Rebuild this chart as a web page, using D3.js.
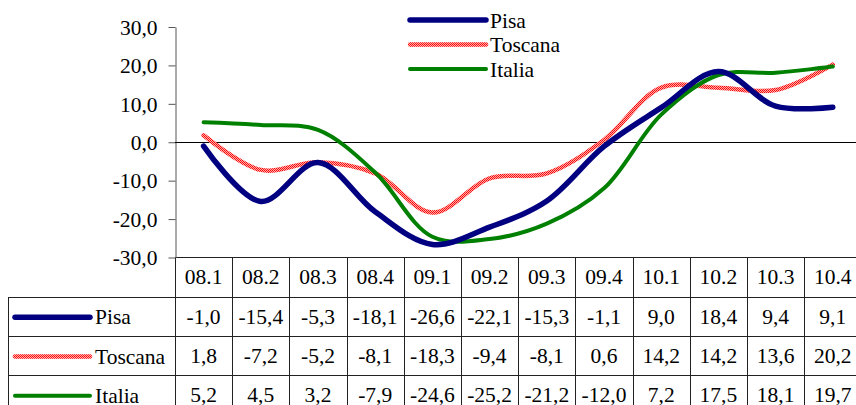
<!DOCTYPE html>
<html>
<head>
<meta charset="utf-8">
<script src="https://cdn.jsdelivr.net/npm/d3@7"></script>
<style>
  body { margin: 0; background: #fff; }
  svg { display: block; }
</style>
</head>
<body>
<svg></svg>
<script>
// dati trimestrali (variazioni %)
const categories = ["08.1", "08.2", "08.3", "08.4", "09.1", "09.2", "09.3", "09.4", "10.1", "10.2", "10.3", "10.4"];
const pisa    = [-1.0, -15.4, -5.3, -18.1, -26.6, -22.1, -15.3, -1.1, 9.0, 18.4, 9.4, 9.1];
const toscana = [1.8, -7.2, -5.2, -8.1, -18.3, -9.4, -8.1, 0.6, 14.2, 14.2, 13.6, 20.2];
const italia  = [5.2, 4.5, 3.2, -7.9, -24.6, -25.2, -21.2, -12.0, 7.2, 17.5, 18.1, 19.7];
const seriesNames = ["Pisa", "Toscana", "Italia"];
const yTicks = [30, 20, 10, 0, -10, -20, -30];

const width = 856, height = 405;
const svg = d3.select("svg").attr("width", width).attr("height", height);

// motivo a scacchi per la linea Toscana
const pat = svg.append("defs").append("pattern")
    .attr("id", "checker")
    .attr("patternUnits", "userSpaceOnUse")
    .attr("width", 2).attr("height", 2);
pat.append("rect").attr("width", 2).attr("height", 2).attr("fill", "#ffa8a8");
pat.append("rect").attr("width", 1).attr("height", 1).attr("fill", "#ff0000");
pat.append("rect").attr("x", 1).attr("y", 1).attr("width", 1).attr("height", 1).attr("fill", "#ff1a1a");

const styles = {
    Pisa:    { stroke: "#000080", width: 5.5 },
    Toscana: { stroke: "url(#checker)", width: 4.5 },
    Italia:  { stroke: "#008000", width: 4 }
};

const left = 175, colW = 57.2;
const x = d3.scaleBand().domain(categories).range([left, left + colW * categories.length]);
const y = d3.scaleLinear().domain([-30, 30]).range([257.5, 27]);

// tabella dati
const rowTop = 257.5, rowH = 39.2;
const grid = svg.append("g").attr("stroke", "#222").attr("stroke-width", 1).attr("shape-rendering", "crispEdges");
for (let i = 0; i <= categories.length; i++) {
    const xx = Math.round(left + i * colW) + 0.5;
    grid.append("line").attr("x1", xx).attr("x2", xx).attr("y1", rowTop).attr("y2", height);
}
grid.append("line").attr("x1", left).attr("x2", width).attr("y1", rowTop).attr("y2", rowTop);
for (let r = 1; r <= 3; r++) {
    const yy = Math.round(rowTop + r * rowH) + 0.5;
    grid.append("line").attr("x1", 8).attr("x2", width).attr("y1", yy).attr("y2", yy);
}
grid.append("line").attr("x1", 8.5).attr("x2", 8.5).attr("y1", Math.round(rowTop + rowH)).attr("y2", height);

svg.append("g").selectAll("text")
    .data(categories)
    .join("text")
    .attr("x", d => x(d) + x.bandwidth() / 2)
    .attr("y", rowTop + rowH / 2 + 6.5)
    .attr("text-anchor", "middle")
    .text(d => d);

const fmt = v => d3.format(".1f")(v).replace(".", ",").replace("\u2212", "-");
const rows = [pisa, toscana, italia];
rows.forEach((vals, r) => {
    const cy = rowTop + (r + 1) * rowH + rowH / 2;
    const name = seriesNames[r];
    svg.append("line")
        .attr("x1", 15).attr("x2", 90).attr("y1", cy + 1).attr("y2", cy + 1)
        .attr("stroke", styles[name].stroke)
        .attr("stroke-width", styles[name].width)
        .attr("stroke-linecap", "round");
    svg.append("text").attr("x", 95).attr("y", cy + 8).text(name);
    svg.append("g").selectAll("text")
        .data(vals)
        .join("text")
        .attr("x", (d, i) => x(categories[i]) + x.bandwidth() / 2)
        .attr("y", cy + 7.5)
        .attr("text-anchor", "middle")
        .text(fmt);
});

// asse Y
const yAxis = svg.append("g")
    .attr("transform", `translate(${left + 0.5},0)`)
    .call(d3.axisLeft(y).tickValues(yTicks).tickSize(7).tickSizeOuter(0).tickPadding(11).tickFormat(fmt));
yAxis.selectAll("text").attr("dy", "0.34em");
yAxis.selectAll("line, path").attr("stroke", "#555");

// linea dello zero
svg.append("line")
    .attr("x1", left).attr("x2", width)
    .attr("y1", Math.round(y(0)) + 0.5).attr("y2", Math.round(y(0)) + 0.5)
    .attr("stroke", "#000").attr("stroke-width", 1);

// serie
const line = d3.line()
    .x((d, i) => x(categories[i]) + x.bandwidth() / 2)
    .y(d => y(d))
    .curve(d3.curveCatmullRom.alpha(0.5));

[toscana, italia, pisa].forEach(vals => {
    const name = seriesNames[rows.indexOf(vals)];
    svg.append("path")
        .datum(vals)
        .attr("fill", "none")
        .attr("stroke", styles[name].stroke)
        .attr("stroke-width", styles[name].width)
        .attr("stroke-linecap", "round")
        .attr("stroke-linejoin", "round")
        .attr("d", line);
});

// legenda in alto
const legend = svg.append("g");
seriesNames.forEach((name, i) => {
    const ly = 20 + i * 24.5;
    legend.append("line")
        .attr("x1", 410).attr("x2", 486).attr("y1", ly).attr("y2", ly)
        .attr("stroke", styles[name].stroke)
        .attr("stroke-width", styles[name].width)
        .attr("stroke-linecap", "round");
    legend.append("text").attr("x", 490).attr("y", ly + 7.5).text(name);
});

// font Times per tutti i testi
svg.selectAll("text")
    .style("font-family", "'Liberation Serif'")
    .style("font-size", "21.5px")
    .style("fill", "#000");
</script>
</body>
</html>
